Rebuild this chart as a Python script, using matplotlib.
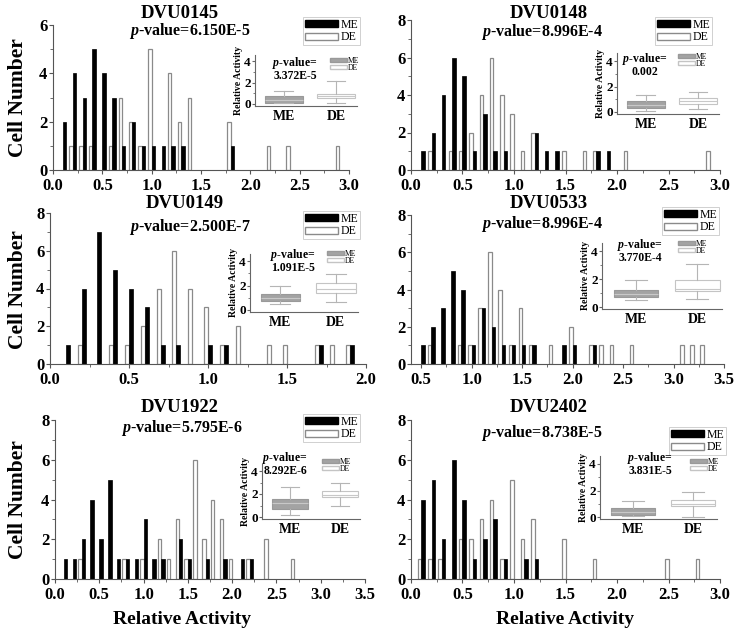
import numpy as np
import matplotlib
matplotlib.use('Agg')
import matplotlib.pyplot as plt
from matplotlib.patches import Patch

plt.rcParams['font.family'] = 'Liberation Serif'
plt.rcParams['font.weight'] = 'bold'
plt.rcParams['mathtext.fontset'] = 'custom'
plt.rcParams['mathtext.it'] = 'Liberation Serif:italic:bold'
plt.rcParams['mathtext.rm'] = 'Liberation Serif:bold'

# data
genes = ['DVU0145', 'DVU0148', 'DVU0149', 'DVU0533', 'DVU1922', 'DVU2402']
pvals = ['6.150E-5', '8.996E-4', '2.500E-7', '8.996E-4', '5.795E-6', '8.738E-5']
inset_pvals = ['3.372E-5', '0.002', '1.091E-5', '3.770E-4', '8.292E-6', '3.831E-5']

# histogram counts: bin centres and cell numbers
me0145_x = [0.1, 0.2, 0.3, 0.4, 0.5, 0.6, 0.7, 0.8, 0.9, 1.0, 1.1, 1.2, 1.3, 1.8]
me0145_n = [2, 4, 3, 5, 4, 3, 1, 2, 1, 1, 1, 1, 1, 1]
de0145_x = [0.2, 0.3, 0.4, 0.6, 0.7, 0.8, 0.9, 1.0, 1.2, 1.3, 1.4, 1.8, 2.2, 2.4, 2.9]
de0145_n = [1, 1, 1, 1, 3, 2, 1, 5, 4, 2, 3, 2, 1, 1, 1]

me0148_x = [0.1, 0.2, 0.3, 0.4, 0.5, 0.6, 0.7, 0.8, 0.9, 1.2, 1.3, 1.4, 1.8, 1.9]
me0148_n = [1, 2, 4, 6, 5, 1, 3, 1, 1, 2, 1, 1, 1, 1]
de0148_x = [0.2, 0.4, 0.5, 0.6, 0.7, 0.8, 0.9, 1.0, 1.1, 1.2, 1.5, 1.7, 1.8, 2.1, 2.9]
de0148_n = [1, 1, 1, 2, 4, 6, 4, 3, 1, 2, 1, 1, 1, 1, 1]

me0149_x = [0.1, 0.2, 0.3, 0.4, 0.5, 0.6, 0.7, 0.8, 1.0, 1.1, 1.7, 1.9]
me0149_n = [1, 4, 7, 5, 4, 3, 1, 1, 1, 1, 1, 1]
de0149_x = [0.2, 0.4, 0.5, 0.6, 0.7, 0.8, 0.9, 1.0, 1.1, 1.2, 1.4, 1.5, 1.7, 1.8, 1.9]
de0149_n = [1, 1, 1, 2, 4, 6, 4, 3, 1, 2, 1, 1, 1, 1, 1]

me0533_x = [0.5, 0.6, 0.7, 0.8, 0.9, 1.0, 1.1, 1.2, 1.3, 1.4, 1.5, 1.6, 1.9, 2.0, 2.2]
me0533_n = [1, 2, 3, 5, 4, 1, 3, 2, 1, 1, 1, 1, 1, 1, 1]
de0533_x = [0.6, 0.9, 1.0, 1.1, 1.2, 1.3, 1.4, 1.5, 1.6, 1.8, 2.0, 2.2, 2.3, 2.4, 2.6, 3.1, 3.2, 3.3]
de0533_n = [1, 1, 1, 3, 6, 4, 1, 3, 1, 1, 2, 1, 1, 1, 1, 1, 1, 1]

me1922_x = [0.1, 0.2, 0.3, 0.4, 0.5, 0.6, 0.7, 0.8, 0.9, 1.0, 1.1, 1.2, 1.4, 1.5, 1.7, 1.9, 2.1, 2.2]
me1922_n = [1, 1, 2, 4, 2, 5, 1, 1, 1, 3, 1, 1, 2, 1, 1, 1, 1, 1]
de1922_x = [0.3, 0.8, 1.0, 1.2, 1.3, 1.4, 1.5, 1.6, 1.7, 1.8, 1.9, 2.0, 2.2, 2.4, 2.7]
de1922_n = [1, 1, 1, 2, 1, 3, 1, 6, 2, 4, 3, 1, 1, 2, 1]

me2402_x = [0.1, 0.2, 0.3, 0.4, 0.5, 0.6, 0.7, 0.8, 0.9, 1.1, 1.2]
me2402_n = [4, 5, 2, 6, 4, 1, 2, 3, 1, 1, 1]
de2402_x = [0.1, 0.2, 0.3, 0.5, 0.6, 0.7, 0.8, 0.9, 1.0, 1.1, 1.2, 1.5, 1.8, 2.5, 2.8]
de2402_n = [1, 1, 1, 2, 2, 3, 4, 1, 5, 2, 3, 2, 1, 1, 1]

# inset box plots: whisker low, q1, median, q3, whisker high
me_box = [[0.05, 0.1, 0.4, 0.7, 1.2], [0.1, 0.3, 0.55, 0.85, 1.37],
          [0.45, 0.75, 1.0, 1.27, 2.0], [0.48, 0.7, 0.95, 1.25, 1.9],
          [0.15, 0.7, 1.2, 1.6, 2.65], [0.05, 0.18, 0.4, 0.68, 1.22]]
de_box = [[0.1, 0.6, 0.75, 0.95, 2.1], [0.26, 0.65, 0.85, 1.1, 1.6],
          [0.67, 1.4, 1.75, 2.2, 2.97], [0.6, 1.15, 1.3, 1.95, 3.1],
          [1.0, 1.7, 1.95, 2.25, 2.95], [0.0, 0.8, 1.0, 1.25, 1.9]]

W, H = 745, 637
fig = plt.figure(figsize=(W / 100, H / 100), dpi=100)


def fx(x):
    return x / W


def fy(y):
    return 1 - y / H


def add_px_axes(x0, x1, top, bottom):
    return fig.add_axes([fx(x0), fy(bottom), (x1 - x0) / W, (bottom - top) / H])


def draw_panel(i, rect, xlim, xticks, ymax, me_x, me_n, de_x, de_n, w):
    ax = add_px_axes(*rect)
    ax.bar(np.array(de_x) - w / 2, de_n, w, color='white', edgecolor='#8a8a8a', lw=0.9)
    ax.bar(np.array(me_x) + w / 2, me_n, w, color='black', edgecolor='black', lw=0.5)
    ax.set_xlim(*xlim)
    ax.set_ylim(0, ymax)
    ax.set_xticks(xticks)
    ax.set_xticklabels(['%.1f' % t for t in xticks], fontweight='bold', fontsize=12)
    yt = np.arange(0, ymax + 1, 2)
    ax.set_yticks(yt)
    ax.set_yticklabels([str(int(t)) for t in yt], fontweight='bold', fontsize=12)
    ax.set_yticks(np.arange(1, ymax, 2), minor=True)
    ax.set_xticks(np.arange(xticks[0] + 0.25, xticks[-1], 0.5), minor=True)
    for s in ['top', 'right']:
        ax.spines[s].set_visible(False)
    for s in ['left', 'bottom']:
        ax.spines[s].set_color('#555555')
    ax.tick_params(length=3, color='#555555')
    ax.tick_params(axis='y', pad=1)
    ax.tick_params(axis='x', pad=3)
    ax.tick_params(which='minor', length=2, color='#555555')
    return ax


def draw_inset(i, x0, x1, y0, y4):
    unit = (y0 - y4) / 4.0
    top = y0 - 4.6 * unit
    bottom = y0 + 0.15 * unit
    ax = add_px_axes(x0, x1, top, bottom)
    st = []
    for b in (me_box[i], de_box[i]):
        st.append(dict(whislo=b[0], q1=b[1], med=b[2], q3=b[3], whishi=b[4], fliers=[]))
    bp = ax.bxp(st, positions=[1, 2], widths=0.72, patch_artist=True, showcaps=True,
                whiskerprops=dict(color='#b5b5b5', lw=0.8), capprops=dict(color='#b5b5b5', lw=0.8),
                medianprops=dict(color='#c8c8c8', lw=0.8))
    bp['boxes'][0].set(facecolor='#a3a3a3', edgecolor='#999999', lw=0.8)
    bp['boxes'][1].set(facecolor='white', edgecolor='#c4c4c4', lw=0.8)
    ax.set_xlim(0.45, 2.4)
    ax.set_ylim(-0.15, 4.6)
    ax.set_yticks([0, 2, 4])
    ax.set_yticklabels(['0', '2', '4'], fontweight='bold', fontsize=9.5)
    ax.set_yticks([1, 3], minor=True)
    ax.set_xticks([1, 2])
    ax.set_xticklabels(['ME', 'DE'], fontweight='bold', fontsize=10)
    for s in ['top', 'right']:
        ax.spines[s].set_visible(False)
    for s in ['left', 'bottom']:
        ax.spines[s].set_color('#666666')
        ax.spines[s].set_linewidth(0.8)
    ax.tick_params(axis='x', length=0, pad=3)
    ax.tick_params(axis='y', length=2, pad=1, color='#666666')
    ax.tick_params(axis='y', which='minor', length=1.5, color='#666666')
    ax.set_ylabel('Relative Activity', fontsize=7, fontweight='bold', labelpad=1)
    return ax


panels = [
    ((53, 349, 25, 170), (0, 3.0), [0.0, 0.5, 1.0, 1.5, 2.0, 2.5, 3.0], 6, me0145_x, me0145_n, de0145_x, de0145_n, 0.034),
    ((411, 720, 20, 170), (0, 3.0), [0.0, 0.5, 1.0, 1.5, 2.0, 2.5, 3.0], 8, me0148_x, me0148_n, de0148_x, de0148_n, 0.034),
    ((50, 366, 213, 364), (0, 2.0), [0.0, 0.5, 1.0, 1.5, 2.0], 8, me0149_x, me0149_n, de0149_x, de0149_n, 0.025),
    ((411, 724, 215, 364), (0.4, 3.5), [0.5, 1.0, 1.5, 2.0, 2.5, 3.0, 3.5], 8, me0533_x, me0533_n, de0533_x, de0533_n, 0.034),
    ((55, 365, 420, 579), (0, 3.5), [0.0, 0.5, 1.0, 1.5, 2.0, 2.5, 3.0, 3.5], 8, me1922_x, me1922_n, de1922_x, de1922_n, 0.038),
    ((411, 720, 420, 579), (0, 3.0), [0.0, 0.5, 1.0, 1.5, 2.0, 2.5, 3.0], 8, me2402_x, me2402_n, de2402_x, de2402_n, 0.034),
]

title_pos = [(180, 14), (549, 14), (185, 203), (549, 203), (180, 408), (549, 408)]
pval_pos = [(190, 31), (542, 32), (190, 227), (542, 224), (182, 428), (542, 433)]
legend_pos = [(303, 17), (655, 17), (303, 211), (662, 207), (303, 414), (669, 427)]
insets = [(255, 357, 104, 61), (617, 719, 112, 61), (250, 358, 310, 261),
          (602, 722, 307, 251), (262, 360, 517, 471), (600, 717, 517, 464)]
inset_txt = [(295, 63), (645, 59), (293, 255), (640, 245), (285, 458), (650, 458)]
inset_leg = [(329, 56), (677, 52), (326, 249), (677, 239), (321, 457), (689, 457)]

for i, p in enumerate(panels):
    ax = draw_panel(i, *p)
    fig.text(fx(title_pos[i][0]), fy(title_pos[i][1]), genes[i], ha='center', va='center',
             fontsize=13.5, fontweight='bold')
    fig.text(fx(pval_pos[i][0]), fy(pval_pos[i][1]), r'$\it{p}$-value=' + pvals[i],
             ha='center', va='center', fontsize=11.5, fontweight='bold')
    h = [Patch(facecolor='black', edgecolor='black'), Patch(facecolor='white', edgecolor='#8a8a8a')]
    leg = ax.legend(h, ['ME', 'DE'], loc='upper left', bbox_to_anchor=(fx(legend_pos[i][0]), fy(legend_pos[i][1])),
                    bbox_transform=fig.transFigure, fontsize=8.5, handlelength=2.8, handleheight=0.55,
                    labelspacing=0.05, borderpad=0.15, handletextpad=0.2, borderaxespad=0,
                    frameon=True, fancybox=False, edgecolor='#bbbbbb')
    leg.get_frame().set_linewidth(0.6)
    for t in leg.get_texts():
        t.set_fontweight('normal')

    iax = draw_inset(i, *insets[i])
    fig.text(fx(inset_txt[i][0]), fy(inset_txt[i][1]), r'$\it{p}$-value=', ha='center', va='center',
             fontsize=8.5, fontweight='bold')
    fig.text(fx(inset_txt[i][0]), fy(inset_txt[i][1] + 13), inset_pvals[i], ha='center', va='center',
             fontsize=8.5, fontweight='bold')
    h2 = [Patch(facecolor='#a3a3a3', edgecolor='#999999'), Patch(facecolor='white', edgecolor='#c4c4c4')]
    leg2 = iax.legend(h2, ['ME', 'DE'], loc='upper left', bbox_to_anchor=(fx(inset_leg[i][0]), fy(inset_leg[i][1])),
                      bbox_transform=fig.transFigure, fontsize=5.5, handlelength=2.2, handleheight=0.5,
                      labelspacing=-0.1, borderpad=0.1, handletextpad=0.2, borderaxespad=0, frameon=False)
    for t in leg2.get_texts():
        t.set_fontweight('normal')

for yc in (98, 290, 500):
    fig.text(fx(18), fy(yc), 'Cell Number', rotation=90, ha='center', va='center',
             fontsize=15.5, fontweight='bold')
for xc in (182, 565):
    fig.text(fx(xc), fy(620), 'Relative Activity', ha='center', va='center',
             fontsize=14, fontweight='bold')

fig.savefig('out.png', dpi=100)
